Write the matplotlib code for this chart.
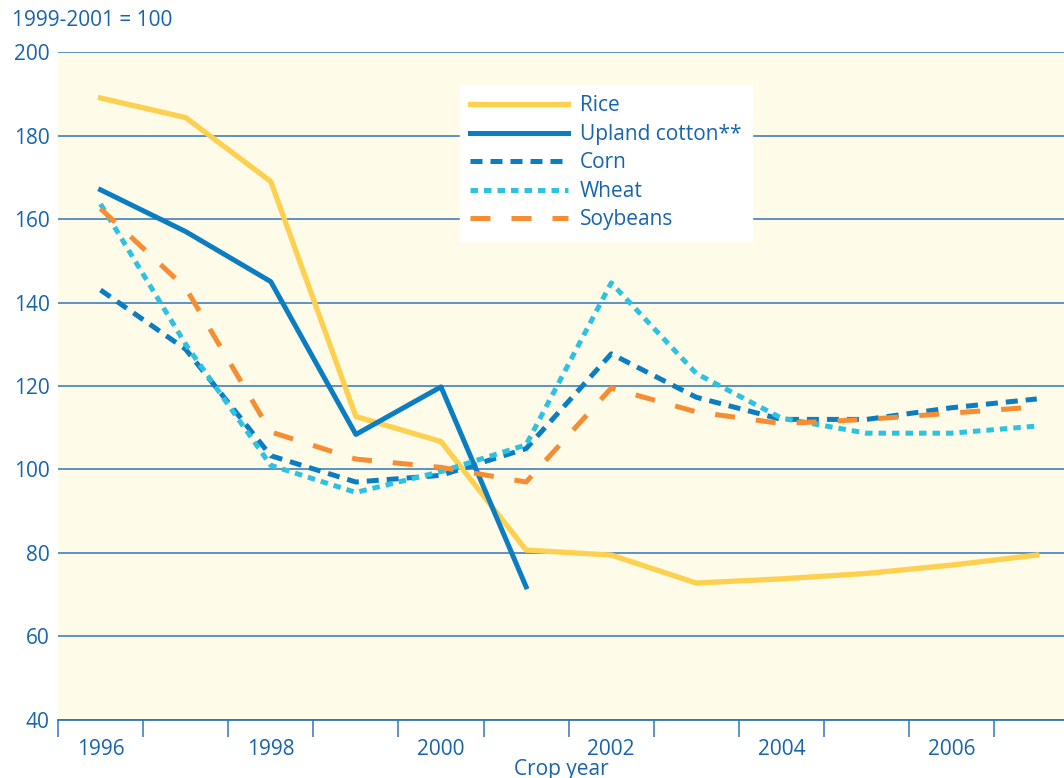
import numpy as np
import matplotlib.pyplot as plt

# Indices des prix, 1999-2001 = 100
years = [1996, 1997, 1998, 1999, 2000, 2001, 2002, 2003, 2004, 2005, 2006, 2007]
cotton_years = [1996, 1997, 1998, 1999, 2000, 2001]

rice = [189, 184.3, 169, 112.7, 106.7, 80.7, 79.5, 72.8, 73.8, 75.1, 77.1, 79.5]
cotton = [167, 157, 145, 108.4, 119.8, 71.9]
corn = [143, 128.8, 103.3, 97, 98.6, 105, 127.7, 117.3, 112, 112, 114.8, 116.9]
wheat = [163.6, 130, 101, 94.5, 99.5, 105.9, 144.7, 123, 112.3, 108.7, 108.7, 110.4]
soybeans = [162.5, 143.5, 109, 102.5, 100.5, 97, 119.5, 113.8, 111, 112, 113.5, 115]

yticks = [40, 60, 80, 100, 120, 140, 160, 180, 200]
xticks = [1996, 1998, 2000, 2002, 2004, 2006]

txt = '#1764ad'
grid_col = '#2f76b8'

plt.rcParams['font.family'] = ['Open Sans', 'DejaVu Sans']

fig = plt.figure(figsize=(10.64, 7.78), dpi=100)
ax = fig.add_axes([0.0545, 0.0746, 0.9455, 0.8585])
ax.set_facecolor('#fffbe9')

ax.plot(years, rice, color='#fdd050', lw=3.8, label='Rice')
ax.plot(cotton_years, cotton, color='#0b7dc2', lw=3.6, label='Upland cotton**')
ax.plot(years, corn, color='#0b7dc2', lw=3.6, dashes=(2.4, 1.6), label='Corn')
ax.plot(years, wheat, color='#2ec2e2', lw=3.6, dashes=(1.5, 1.2), label='Wheat')
ax.plot(years, soybeans, color='#f78d33', lw=3.6, dashes=(4, 4.2), label='Soybeans')

ax.set_xlim(1995.5, 2007.32)
ax.set_ylim(40, 200)
ax.set_yticks(yticks)
ax.yaxis.grid(True, color=grid_col, lw=1.1)
ax.set_axisbelow(True)

ax.set_xticks(xticks)
ax.set_xticks(np.arange(1995.5, 2007.5, 1.0), minor=True)
ax.tick_params(axis='x', which='major', length=0, pad=14, labelsize=15, labelcolor=txt)
ax.tick_params(axis='x', which='minor', length=12, width=1.1, color=grid_col)
ax.tick_params(axis='y', length=0, pad=6, labelsize=15, labelcolor=txt)

for s in ['top', 'right', 'left']:
    ax.spines[s].set_visible(False)
ax.spines['bottom'].set_color(grid_col)
ax.spines['bottom'].set_linewidth(1.3)

ax.set_xlabel('Crop year', color=txt, fontsize=15, labelpad=-1)
fig.text(0.011, 0.974, '1999-2001 = 100', color=txt, fontsize=15, va='center')

leg = ax.legend(loc='upper left', bbox_to_anchor=(0.3996, 0.9506), frameon=True,
                fontsize=15, handlelength=4.7, handletextpad=0.55,
                labelspacing=0.36, borderpad=0.5, borderaxespad=0, fancybox=False)
leg.get_frame().set_facecolor('white')
leg.get_frame().set_edgecolor('white')
leg.get_frame().set_alpha(1)
for t in leg.get_texts():
    t.set_color(txt)

fig.savefig('out.png', dpi=100)
